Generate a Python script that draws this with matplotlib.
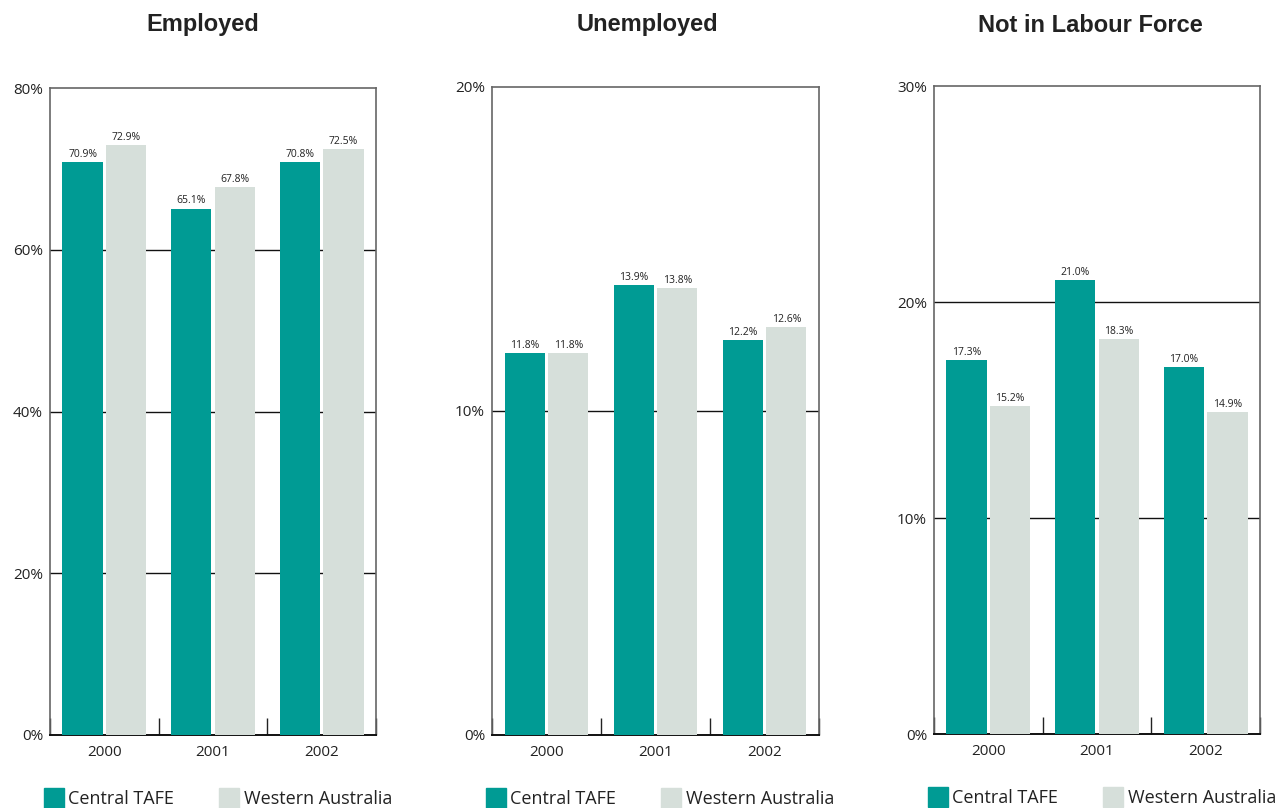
import matplotlib
matplotlib.use('Agg')
import matplotlib.pyplot as plt
import numpy as np
from matplotlib.patches import Patch

plt.rcParams['font.family'] = ['Open Sans', 'DejaVu Sans']

years = ['2000', '2001', '2002']
series = ['Central TAFE', 'Western Australia']

employed_tafe = [70.9, 65.1, 70.8]
employed_wa = [72.9, 67.8, 72.5]
unemployed_tafe = [11.8, 13.9, 12.2]
unemployed_wa = [11.8, 13.8, 12.6]
notlf_tafe = [17.3, 21.0, 17.0]
notlf_wa = [15.2, 18.3, 14.9]

panels = [
    ('Employed', employed_tafe, employed_wa, [0, 20, 40, 60, 80]),
    ('Unemployed', unemployed_tafe, unemployed_wa, [0, 10, 20]),
    ('Not in Labour Force', notlf_tafe, notlf_wa, [0, 10, 20, 30]),
]

teal = '#009B94'
grey = '#D6DFDA'

W, H = 1279, 808
fig = plt.figure(figsize=(W / 100, H / 100), dpi=100)

# axes boxes in pixels: left, top, right, bottom
boxes = [(50, 88, 376, 735), (492, 87, 819, 735), (934, 86, 1260, 734)]
title_x = [203, 647, 1090]

x = np.arange(len(years))
w = 0.37
off = 0.2

for (title, tafe, wa, yt), (l, t, r, b), tx in zip(panels, boxes, title_x):
    ax = fig.add_axes([l / W, 1 - b / H, (r - l) / W, (b - t) / H])
    b1 = ax.bar(x - off, tafe, w, color=teal, zorder=3)
    b2 = ax.bar(x + off, wa, w, color=grey, zorder=3)
    for bars, vals in ((b1, tafe), (b2, wa)):
        for bar, v in zip(bars, vals):
            ax.annotate(f'{v:.1f}%', (bar.get_x() + bar.get_width() / 2, v),
                        xytext=(0, 1.5), textcoords='offset points',
                        ha='center', va='bottom', fontsize=7.5, color='#222222')
    ax.set_xlim(-0.5, 2.5)
    ax.set_ylim(0, yt[-1])
    ax.set_yticks(yt)
    ax.set_yticklabels([f'{v}%' for v in yt])
    ax.set_xticks(x)
    ax.set_xticklabels(years)
    ax.set_xticks([-0.5, 0.5, 1.5, 2.5], minor=True)
    ax.tick_params(axis='x', which='major', length=0, pad=7, labelsize=11, colors='#222222')
    ax.tick_params(axis='x', which='minor', direction='in', length=12, width=1.0, color='#222222')
    ax.tick_params(axis='y', length=0, pad=5, labelsize=11, colors='#222222')
    for yv in yt[1:-1]:
        ax.axhline(yv, color='#111111', lw=1, zorder=1)
    for s in ('left', 'right', 'top'):
        ax.spines[s].set_color('#666666')
        ax.spines[s].set_linewidth(1.2)
    ax.spines['bottom'].set_color('#111111')
    ax.spines['bottom'].set_linewidth(1.4)
    fig.text(tx / W, 1 - 25 / H, title, ha='center', va='center',
             fontsize=17, fontweight='bold', family='Liberation Sans', color='#222222')
    handles = [Patch(color=teal), Patch(color=grey)]
    ax.legend(handles, series, ncol=2, loc='upper left',
              bbox_to_anchor=(-6 / (r - l), -53 / (b - t)), frameon=False,
              fontsize=13, handlelength=1.1, handleheight=1.3, handletextpad=0.25,
              columnspacing=2.5, borderpad=0, borderaxespad=0, labelcolor='#222222')

fig.savefig('out.png', dpi=100)
